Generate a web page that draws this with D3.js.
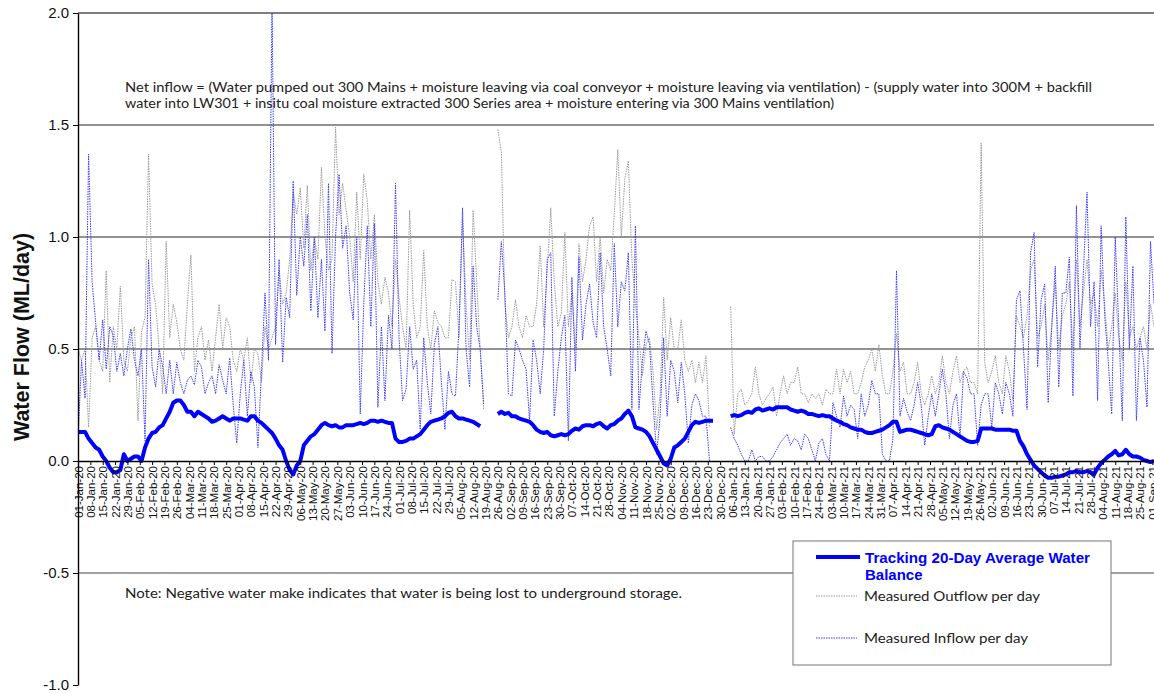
<!DOCTYPE html>
<html>
<head>
<meta charset="utf-8">
<script src="https://cdn.jsdelivr.net/npm/d3@7"></script>
<style>
  body { margin: 0; background: #fff; }
  svg { display: block; }
  .note { font-family: "Century Gothic", "Lato", "Open Sans", sans-serif; font-size: 12.5px; fill: #222; }
</style>
</head>
<body>
<div class="root"></div>
<script>
// daily records sampled every 2 days from 01-Jan-20 (null = no data)
var startDate = new Date(2020, 0, 1);
var stepDays = 2;

var outflow = [
  0.5, 0.45, 0.5, 0.15, 0.55, 0.6, 0.45, 0.4, 0.85, 0.35,
  0.6, 0.5, 0.78, 0.45, 0.4, 0.55, 0.6, 0.18, 0.58, 0.64,
  1.37, 0.79, 0.7, 0.5, 0.3, 0.98, 0.55, 0.7, 0.62, 0.5,
  0.45, 0.7, 0.92, 0.4, 0.55, 0.6, 0.45, 0.54, 0.4, 0.55,
  0.7, 0.5, 0.64, 0.6, 0.45, 0.4, 0.5, 0.45, 0.55, 0.35,
  0.5, 0.48, 0.35, 0.6, 0.5, 0.55, 0.6, 0.85, 0.7, 0.75,
  0.9, 1.2, 1.1, 1.22, 0.95, 1.23, 0.85, 1.0, 0.9, 1.31,
  1.0, 0.85, 0.9, 1.49, 1.1, 1.24, 1.12, 1.0, 0.8, 1.2,
  0.9, 1.28, 1.16, 0.9, 1.1, 0.8, 0.7, 0.82, 0.75, 0.6,
  0.9, 0.73, 0.6, 0.5, 1.12, 0.7, 0.55, 0.6, 0.94, 0.6,
  0.5, 0.67, 0.62, 0.6, 0.55, 0.55, 0.81, 0.8, 0.55, 1.08,
  0.7, 0.45, 1.12, 0.8, 0.5, 0.23, null, null, null, 1.48,
  1.38, 0.7, 0.55, 0.6, 0.72, 0.6, 0.55, 0.65, 0.6, 0.6,
  0.7, 0.96, 0.6, 0.85, 1.13, 0.8, 0.6, 0.66, 1.02, 0.6,
  0.75, 0.5, 0.97, 0.8, 0.9, 1.05, 1.09, 0.8, 1.0, 0.75,
  0.9, 0.85, 1.1, 1.39, 1.0, 1.26, 1.34, 0.9, 0.7, 0.55,
  0.38, 0.52, 0.55, 0.4, 0.14, 0.3, 0.73, 0.45, 0.64, 0.5,
  0.5, 0.63, 0.45, 0.4, 0.45, 0.35, 0.44, 0.35, 0.47, 0.15,
  null, null, null, null, null, 0.69, 0.12, 0.3, 0.32, 0.25,
  0.27, 0.3, 0.42, 0.3, 0.25, 0.28, 0.3, 0.33, 0.2, 0.3,
  0.38, 0.3, 0.35, 0.35, 0.42, 0.3, 0.3, 0.26, 0.3, 0.28,
  0.3, 0.25, 0.32, 0.3, 0.3, 0.41, 0.3, 0.41, 0.35, 0.4,
  0.3, 0.3, 0.35, 0.42, 0.45, 0.5, 0.4, 0.52, 0.38, 0.3,
  0.3, 0.4, 0.57, 0.4, 0.44, 0.3, 0.3, 0.35, 0.44, 0.3,
  0.25, 0.3, 0.38, 0.3, 0.35, 0.47, 0.35, 0.3, 0.4, 0.47,
  0.35, 0.4, 0.42, 0.35, 0.35, 0.3, 1.42, 0.44, 0.35, 0.4,
  0.47, 0.35, 0.3, 0.47, 0.4, 0.27, 0.65, 0.6, 0.55, 0.65,
  0.85, 0.9, 0.55, 0.6, 0.7, 0.45, 0.6, 0.8, 0.5, 0.65,
  0.7, 0.8, 0.5, 0.9, 0.6, 0.75, 0.9, 0.7, 0.75, 0.6,
  0.85, 0.7, 0.5, 0.6, 0.75, 0.55, 0.45, 0.8, 0.55, 0.6,
  0.5, 0.55, 0.6, 0.5, 0.7, 0.6
];

var inflow = [
  0.1, 0.45, 0.28, 1.37, 0.8, 0.62, 0.45, 0.63, 0.41, 0.6,
  0.56, 0.4, 0.48, 0.38, 0.5, 0.59, 0.45, 0.38, 0.5, 0.09,
  0.9, 0.42, 0.33, 0.5, 0.42, 0.3, 0.45, 0.3, 0.44, 0.35,
  0.3, 0.36, 0.38, 0.34, 0.45, 0.42, 0.3, 0.35, 0.38, 0.3,
  0.43, 0.36, 0.3, 0.46, 0.25, 0.08, 0.3, 0.45, 0.2, 0.4,
  0.33, 0.06, 0.4, 0.75, 0.45, 2.05, 0.52, 0.9, 0.44, 0.73,
  0.64, 1.25, 0.74, 1.0, 0.87, 1.1, 0.67, 1.0, 0.64, 0.9,
  0.58, 1.24, 0.48, 1.0, 1.28, 0.95, 1.05, 0.75, 0.63, 1.0,
  0.21, 0.7, 1.05, 0.6, 1.06, 0.24, 0.6, 0.27, 0.65, 0.5,
  1.24, 0.55, 0.27, 0.32, 0.6, 0.41, 0.45, 0.14, 0.55, 0.35,
  0.21, 0.52, 0.6, 0.35, 0.14, 0.4, 0.3, 0.29, 0.6, 1.13,
  0.5, 0.33, 0.87, 0.6, 0.5, 0.25, null, null, null, 0.72,
  0.98, 0.75, 0.3, 0.29, 0.54, 0.5, 0.45, 0.41, 0.18, 0.54,
  0.45, 0.3, 0.5, 0.9, 0.93, 0.2, 0.4, 0.55, 0.65, 0.09,
  0.82, 0.4, 0.91, 0.54, 0.7, 0.79, 0.62, 0.55, 0.93, 0.6,
  0.5, 0.38, 0.97, 0.6, 0.8, 0.76, 0.93, 0.23, 1.05, 0.23,
  0.45, 0.58, 0.52, 0.26, 0.03, 0.2, 0.55, 0.2, 0.45, 0.4,
  0.26, 0.44, 0.3, 0.08, 0.25, 0.3, 0.27, 0.2, 0.2, 0.0,
  null, null, null, null, null, 0.15, 0.1, 0.07, 0.03, 0.0,
  0.0, 0.05, 0.0, 0.02, 0.02, 0.0, 0.0, 0.02, 0.05, 0.08,
  0.1, 0.12, 0.07, 0.1, 0.09, 0.05, 0.12, 0.1, 0.05, 0.0,
  0.08, 0.1, 0.03, 0.0, 0.26, 0.2, 0.15, 0.29, 0.2, 0.25,
  0.23, 0.1, 0.3, 0.2, 0.25, 0.36, 0.3, 0.3, 0.03, 0.0,
  0.0, 0.1, 0.85, 0.2, 0.28, 0.22, 0.18, 0.25, 0.35, 0.25,
  0.07, 0.2, 0.3, 0.2, 0.3, 0.41, 0.3, 0.1, 0.25, 0.3,
  0.1, 0.4, 0.37, 0.3, 0.3, 0.07, 0.25, 0.3, 0.3, 0.15,
  0.35, 0.3, 0.21, 0.35, 0.3, 0.2, 0.72, 0.76, 0.5, 0.23,
  0.93, 1.02, 0.42, 0.72, 0.79, 0.26, 0.6, 0.87, 0.33, 0.75,
  0.75, 0.91, 0.29, 1.14, 0.5, 0.85, 1.2, 0.6, 0.8, 0.27,
  1.05, 0.65, 0.45, 0.21, 1.0, 0.6, 0.18, 1.09, 0.5, 0.87,
  0.18, 0.55, 0.45, 0.24, 0.98, 0.7
];

var avg20 = [
  0.13, 0.13, 0.13, 0.1, 0.08, 0.06, 0.05, 0.02, 0.0, -0.03,
  -0.05, -0.05, -0.04, 0.03, 0.0, 0.01, 0.02, 0.02, 0.0, 0.06,
  0.1, 0.125, 0.13, 0.15, 0.16, 0.19, 0.22, 0.26, 0.27, 0.27,
  0.25, 0.22, 0.22, 0.2, 0.22, 0.21, 0.2, 0.19, 0.175, 0.18,
  0.19, 0.2, 0.19, 0.18, 0.19, 0.19, 0.19, 0.185, 0.18, 0.2,
  0.2, 0.18, 0.17, 0.155, 0.14, 0.125, 0.1, 0.07, 0.05, 0.0,
  -0.04, -0.06, -0.02, 0.0, 0.07, 0.09, 0.11, 0.12, 0.14, 0.16,
  0.17, 0.16, 0.155, 0.16, 0.15, 0.15, 0.16, 0.16, 0.16, 0.165,
  0.17, 0.165, 0.17, 0.18, 0.18, 0.175, 0.18, 0.175, 0.17, 0.17,
  0.1, 0.085, 0.085, 0.09, 0.1, 0.1, 0.11, 0.12, 0.14, 0.16,
  0.175, 0.18, 0.185, 0.19, 0.2, 0.215, 0.22, 0.2, 0.19, 0.19,
  0.185, 0.18, 0.175, 0.165, 0.155, null, null, null, null, 0.21,
  0.22, 0.21, 0.215, 0.2, 0.2, 0.19, 0.185, 0.18, 0.175, 0.16,
  0.14, 0.13, 0.125, 0.13, 0.115, 0.11, 0.115, 0.12, 0.115, 0.12,
  0.135, 0.145, 0.14, 0.155, 0.16, 0.16, 0.155, 0.165, 0.17, 0.155,
  0.145, 0.16, 0.165, 0.18, 0.19, 0.21, 0.225, 0.2, 0.15, 0.145,
  0.14, 0.13, 0.11, 0.08, 0.05, 0.02, -0.01, -0.02, 0.01, 0.06,
  0.07, 0.085, 0.1, 0.13, 0.16, 0.175, 0.17, 0.175, 0.18, 0.18,
  0.18, null, null, null, null, 0.2, 0.205, 0.2, 0.205, 0.215,
  0.22, 0.215, 0.23, 0.235, 0.225, 0.23, 0.235, 0.23, 0.24, 0.24,
  0.24, 0.24, 0.23, 0.225, 0.22, 0.225, 0.22, 0.21, 0.21, 0.205,
  0.2, 0.205, 0.2, 0.2, 0.19, 0.18, 0.175, 0.165, 0.16, 0.15,
  0.145, 0.14, 0.14, 0.13, 0.125, 0.125, 0.13, 0.135, 0.14, 0.15,
  0.16, 0.175, 0.175, 0.13, 0.135, 0.14, 0.14, 0.135, 0.13, 0.125,
  0.12, 0.115, 0.12, 0.155, 0.16, 0.15, 0.145, 0.14, 0.13, 0.12,
  0.11, 0.1, 0.09, 0.085, 0.085, 0.09, 0.145, 0.145, 0.145, 0.145,
  0.14, 0.14, 0.14, 0.14, 0.14, 0.135, 0.135, 0.09, 0.065, 0.03,
  0.005, -0.02, -0.035, -0.05, -0.065, -0.075, -0.075, -0.07, -0.07, -0.065,
  -0.06, -0.05, -0.05, -0.045, -0.05, -0.05, -0.045, -0.05, -0.06, -0.03,
  -0.01, 0.005, 0.02, 0.03, 0.045, 0.025, 0.03, 0.05, 0.03, 0.02,
  0.02, 0.015, 0.005, 0.0, -0.005, 0.0
];

var yTicks = [-1.0, -0.5, 0.0, 0.5, 1.0, 1.5, 2.0];
var noteLines = [
  "Net inflow = (Water pumped out 300 Mains + moisture leaving via coal conveyor + moisture leaving via ventilation) - (supply water into 300M + backfill",
  "water into LW301 + insitu coal moisture extracted 300 Series area + moisture entering via 300 Mains ventilation)"
];
var negNote = "Note: Negative water make indicates that water is being lost to underground storage.";
var legendLabels = ["Tracking 20-Day Average Water", "Balance", "Measured Outflow per day", "Measured Inflow per day"];

function drawChart() {
  var w = 1154, h = 693;
  var left = 78, top = 13, bottom = 685;

  var svg = d3.select('.root').append('svg')
    .attr('width', w)
    .attr('height', h);

  var x = d3.scaleTime()
    .domain([startDate, d3.timeDay.offset(startDate, 613)])
    .range([left, left + 613 * 1.764]);

  var y = d3.scaleLinear()
    .domain([-1, 2])
    .range([bottom, top]);

  function toPoints(arr) {
    return arr.map(function(v, i) {
      return { date: d3.timeDay.offset(startDate, i * stepDays), value: v };
    });
  }

  // grid lines
  svg.append('g')
    .selectAll('line')
    .data(yTicks.filter(function(d) { return d !== 0 && d !== 2 && d !== -1; }))
    .enter().append('line')
      .attr('x1', left).attr('x2', w)
      .attr('y1', function(d) { return y(d); })
      .attr('y2', function(d) { return y(d); })
      .attr('stroke', function(d) { return d < 0 ? '#808080' : '#6e6e6e'; })
      .attr('stroke-width', 1.3);

  // top border
  svg.append('line')
    .attr('x1', left).attr('x2', w)
    .attr('y1', y(2)).attr('y2', y(2))
    .attr('stroke', '#000').attr('stroke-width', 1.2);

  svg.append('defs').append('clipPath').attr('id', 'plot')
    .append('rect').attr('x', left).attr('y', top).attr('width', w - left).attr('height', bottom - top);

  var line = d3.line()
    .defined(function(d) { return d.value != null; })
    .x(function(d) { return x(d.date); })
    .y(function(d) { return y(d.value); });

  var plot = svg.append('g').attr('clip-path', 'url(#plot)');

  plot.append('path')
    .datum(toPoints(outflow))
    .attr('fill', 'none')
    .attr('stroke', '#9a9a9a')
    .attr('stroke-width', 1)
    .attr('stroke-dasharray', '1.5,1')
    .attr('d', line);

  plot.append('path')
    .datum(toPoints(inflow))
    .attr('fill', 'none')
    .attr('stroke', '#3a3aff')
    .attr('stroke-width', 1)
    .attr('stroke-dasharray', '1.5,1')
    .attr('d', line);

  plot.append('path')
    .datum(toPoints(avg20))
    .attr('fill', 'none')
    .attr('stroke', '#0000ff')
    .attr('stroke-width', 4)
    .attr('stroke-linejoin', 'round')
    .attr('d', line);

  // x axis along zero
  var xAxis = d3.axisBottom(x)
    .ticks(d3.timeWednesday.every(1))
    .tickFormat(d3.timeFormat('%d-%b-%y'))
    .tickSize(4)
    .tickSizeOuter(0);

  var gx = svg.append('g')
    .attr('transform', 'translate(0,' + y(0) + ')')
    .call(xAxis);
  gx.select('.domain').attr('stroke', '#000').attr('stroke-width', 1.6);
  gx.selectAll('.tick line').attr('stroke', '#000');
  gx.selectAll('.tick text')
    .attr('transform', 'rotate(-90)')
    .attr('text-anchor', 'end')
    .attr('x', -5)
    .attr('y', 0)
    .attr('dy', '0.35em')
    .style('font-family', 'Arial, "Liberation Sans", sans-serif')
    .style('font-size', '11.5px')
    .attr('fill', '#111');

  // y axis
  var yAxis = d3.axisLeft(y)
    .tickValues(yTicks)
    .tickFormat(function(d) { return d.toFixed(1); })
    .tickSize(5)
    .tickPadding(4)
    .tickSizeOuter(0);

  var gy = svg.append('g')
    .attr('transform', 'translate(' + left + ',0)')
    .call(yAxis);
  gy.select('.domain').attr('stroke', '#000').attr('stroke-width', 1.4);
  gy.selectAll('.tick line').attr('stroke', '#000');
  gy.selectAll('.tick text')
    .style('font-family', 'Arial, "Liberation Sans", sans-serif')
    .style('font-size', '15px')
    .attr('fill', '#111');

  svg.append('text')
    .attr('transform', 'translate(29,' + 337 + ') rotate(-90)')
    .attr('text-anchor', 'middle')
    .style('font-family', 'Arial, "Liberation Sans", sans-serif')
    .style('font-size', '21.5px')
    .style('font-weight', 'bold')
    .attr('fill', '#111')
    .text('Water Flow (ML/day)');

  // notes
  svg.append('text').attr('class', 'note')
    .attr('x', 125).attr('y', 92)
    .attr('textLength', 967).attr('lengthAdjust', 'spacingAndGlyphs')
    .text(noteLines[0]);
  svg.append('text').attr('class', 'note')
    .attr('x', 125).attr('y', 108)
    .attr('textLength', 709).attr('lengthAdjust', 'spacingAndGlyphs')
    .text(noteLines[1]);
  svg.append('text').attr('class', 'note')
    .attr('x', 125).attr('y', 598)
    .attr('textLength', 557).attr('lengthAdjust', 'spacingAndGlyphs')
    .text(negNote);

  // legend
  var lg = svg.append('g');
  lg.append('rect')
    .attr('x', 793).attr('y', 541).attr('width', 318).attr('height', 124)
    .attr('fill', '#fff').attr('stroke', '#8c8c8c').attr('stroke-width', 1.2);
  lg.append('line').attr('x1', 816).attr('x2', 860).attr('y1', 557).attr('y2', 557)
    .attr('stroke', '#0000ff').attr('stroke-width', 4);
  lg.append('text').attr('x', 865).attr('y', 563)
    .style('font-family', 'Arial, "Liberation Sans", sans-serif')
    .style('font-size', '15px').style('font-weight', 'bold')
    .attr('textLength', 225).attr('lengthAdjust', 'spacingAndGlyphs')
    .attr('fill', '#0000ff').text(legendLabels[0]);
  lg.append('text').attr('x', 865).attr('y', 580)
    .style('font-family', 'Arial, "Liberation Sans", sans-serif')
    .style('font-size', '15px').style('font-weight', 'bold')
    .attr('fill', '#0000ff').text(legendLabels[1]);
  lg.append('line').attr('x1', 816).attr('x2', 857).attr('y1', 596).attr('y2', 596)
    .attr('stroke', '#9a9a9a').attr('stroke-width', 1).attr('stroke-dasharray', '1.5,1');
  lg.append('text').attr('class', 'note').attr('x', 864).attr('y', 601)
    .style('font-size', '14px')
    .attr('textLength', 176).attr('lengthAdjust', 'spacingAndGlyphs')
    .text(legendLabels[2]);
  lg.append('line').attr('x1', 816).attr('x2', 857).attr('y1', 638).attr('y2', 638)
    .attr('stroke', '#3a3aff').attr('stroke-width', 1).attr('stroke-dasharray', '1.5,1');
  lg.append('text').attr('class', 'note').attr('x', 864).attr('y', 643)
    .style('font-size', '14px')
    .attr('textLength', 164).attr('lengthAdjust', 'spacingAndGlyphs')
    .text(legendLabels[3]);
}

window.onload = function() {
  drawChart();
};
</script>
</body>
</html>
